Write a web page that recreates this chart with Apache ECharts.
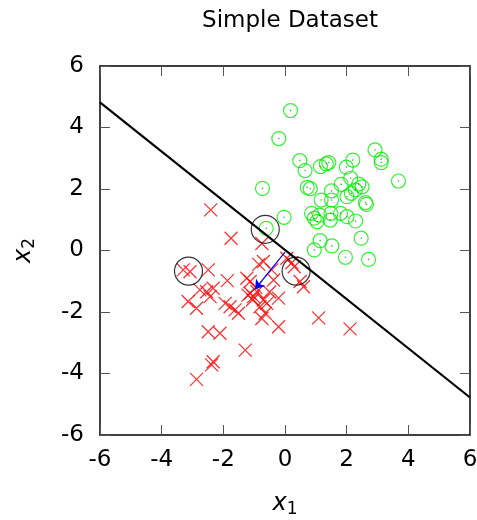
<!DOCTYPE html>
<html>
<head>
<meta charset="utf-8">
<script src="https://cdn.jsdelivr.net/npm/echarts@6/dist/echarts.min.js"></script>
<style>
  html, body { margin: 0; padding: 0; background: #fff; }
  #chart { width: 477px; height: 520px; }
</style>
</head>
<body>
<div id="chart"></div>
<script>
// class +1 (green circles)
const greenPts = [
  [0.18, 4.55], [-0.20, 3.64], [2.92, 3.27], [3.12, 2.97], [3.12, 2.86],
  [0.48, 2.92], [0.65, 2.60], [1.15, 2.73], [1.34, 2.82], [1.42, 2.86],
  [2.20, 2.94], [1.99, 2.71], [-0.73, 2.02], [0.72, 2.05], [0.82, 2.01],
  [-0.03, 1.08], [-0.61, 0.72], [1.51, 1.94], [1.82, 2.15], [2.13, 2.35],
  [2.39, 2.16], [2.50, 2.07], [2.28, 1.97], [1.17, 1.64], [1.51, 1.64],
  [2.01, 1.75], [2.61, 1.56], [2.64, 1.50], [2.15, 1.86], [0.86, 1.21],
  [0.95, 1.05], [1.12, 1.15], [1.04, 0.94], [1.47, 0.99], [1.49, 1.21],
  [1.80, 1.21], [2.01, 1.10], [2.29, 0.96], [2.47, 0.40], [1.14, 0.32],
  [1.52, 0.15], [0.95, 0.02], [1.96, -0.22], [2.71, -0.29], [3.68, 2.26]
]
// class -1 (red crosses)
const redPts = [
  [-2.41, 1.32], [-1.75, 0.40], [-0.75, 0.23], [0.06, -0.25], [0.22, -0.40],
  [0.30, -0.53], [-3.30, -0.63], [-3.08, -0.69], [-2.49, -0.63], [-1.87, -0.98],
  [-1.24, -0.90], [-1.13, -1.01], [-0.70, -0.36], [-0.85, -0.45], [-0.43, -0.63],
  [-0.37, -0.96], [0.49, -1.01], [0.60, -1.18], [-2.76, -1.28], [-2.54, -1.34],
  [-2.43, -1.50], [-2.33, -1.23], [-3.14, -1.66], [-2.87, -1.88], [-1.94, -1.72],
  [-1.78, -1.83], [-1.62, -1.93], [-1.51, -2.04], [-1.13, -1.39], [-1.02, -1.50],
  [-0.91, -1.34], [-1.05, -1.60], [-0.70, -1.61], [-0.59, -1.72], [-0.81, -1.83],
  [-0.64, -2.04], [-0.75, -2.21], [-0.21, -1.55], [-0.21, -2.48], [1.09, -2.19],
  [2.11, -2.55], [-2.49, -2.64], [-2.11, -2.69], [-1.29, -3.24], [-2.33, -3.62],
  [-2.38, -3.72], [-2.87, -4.19], [-1.20, -1.45], [-0.95, -1.20], [-0.50, -1.35]
]
const supportVecs = [[-3.13, -0.67], [-0.64, 0.69], [0.36, -0.67]]
const boundary = [[-6, 4.82], [6, -4.78]]
const normalArrow = [[0.0, -0.05], [-0.97, -1.26]]
const ticks = [-6, -4, -2, 0, 2, 4, 6]

const font = 'DejaVu Sans'
let myChart = echarts.init(document.getElementById('chart'))

let frameAxis = (pos, showLabel) => {
  return {
    type: 'value',
    position: pos,
    min: ticks[0],
    max: ticks[ticks.length - 1],
    interval: 2,
    splitLine: { show: false },
    axisLine: { show: true, onZero: false, lineStyle: { color: '#000', width: 1.5 } },
    axisTick: { show: true, inside: true, length: 10, lineStyle: { color: '#555', width: 1 } },
    axisLabel: { show: showLabel, color: '#000', fontSize: 23, fontFamily: font }
  }
}

let nameRich = {
  i: { fontFamily: font, fontStyle: 'italic', fontSize: 24, color: '#000' },
  s: { fontFamily: font, fontSize: 17, color: '#000', padding: [12, 0, 0, 0] }
}

let xBottom = frameAxis('bottom', true)
xBottom.axisLabel.margin = 14
xBottom.name = '{i|x}{s|1}'
xBottom.nameLocation = 'middle'
xBottom.nameGap = 54
xBottom.nameTextStyle = { rich: nameRich }
let yLeft = frameAxis('left', true)
yLeft.axisLabel.margin = 16
yLeft.name = '{i|x}{s|2}'
yLeft.nameLocation = 'middle'
yLeft.nameGap = 62
yLeft.nameTextStyle = { rich: nameRich }

let option = {
  animation: false,
  backgroundColor: '#fff',
  title: {
    text: 'Simple Dataset',
    left: 285,
    textAlign: 'center',
    top: 5,
    textStyle: { fontFamily: font, fontSize: 23, fontWeight: 'normal', color: '#000' }
  },
  grid: { left: 100, right: 7, top: 66, bottom: 85, outerBoundsMode: 'none', containLabel: false },
  xAxis: [xBottom, frameAxis('top', false)],
  yAxis: [yLeft, frameAxis('right', false)],
  series: [
    {
      type: 'scatter',
      data: greenPts,
      symbol: 'circle',
      symbolSize: 14,
      itemStyle: { color: 'rgba(0,0,0,0)', borderColor: '#00ee00', borderWidth: 1.2 },
      z: 2
    },
    {
      // centre dots of the green markers
      type: 'scatter',
      data: greenPts,
      symbol: 'circle',
      symbolSize: 1.6,
      itemStyle: { color: '#00aa00' },
      z: 2
    },
    {
      type: 'scatter',
      data: redPts,
      symbol: 'path://M0,0L10,10M10,0L0,10',
      symbolSize: 13,
      itemStyle: { color: 'none', borderColor: '#ff0000', borderWidth: 1.3 },
      z: 3
    },
    {
      type: 'scatter',
      data: supportVecs,
      symbol: 'circle',
      symbolSize: 28,
      itemStyle: { color: 'rgba(0,0,0,0)', borderColor: '#000', borderWidth: 1.2 },
      z: 4
    },
    {
      type: 'line',
      data: boundary,
      symbol: 'none',
      lineStyle: { color: '#000', width: 2.2 },
      z: 5
    },
    {
      type: 'lines',
      coordinateSystem: 'cartesian2d',
      data: [{ coords: normalArrow }],
      symbol: ['none', 'arrow'],
      symbolSize: 9,
      lineStyle: { color: '#0000ff', width: 1.2, opacity: 1 },
      z: 6
    }
  ]
}

myChart.setOption(option, true)
</script>
</body>
</html>
